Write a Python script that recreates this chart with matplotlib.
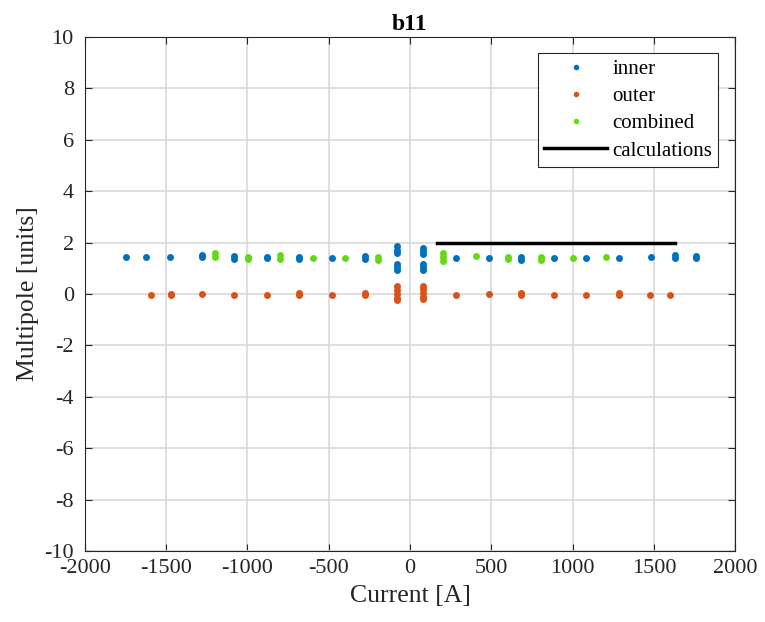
import matplotlib
matplotlib.use("Agg")
import matplotlib.pyplot as plt

plt.rcParams['font.family'] = ['Liberation Serif', 'DejaVu Serif']
plt.rcParams['axes.unicode_minus'] = False

inner_I = [-1750, -1625, -1475, -1280, -1280, -1080, -1080, -880, -880, -680, -680,
           -480, -280, -280, -80, -80, -80, -80, -80, -80,
           80, 80, 80, 80, 80, 80, 283, 484, 684, 684, 884, 1085, 1284, 1485, 1628, 1628, 1760, 1760]
inner_v = [1.45, 1.45, 1.45, 1.45, 1.50, 1.38, 1.48, 1.40, 1.45, 1.35, 1.45,
           1.42, 1.38, 1.48, 1.85, 1.70, 1.60, 1.15, 1.05, 0.95,
           1.80, 1.68, 1.55, 1.15, 1.05, 0.95, 1.40, 1.42, 1.32, 1.45, 1.40, 1.42, 1.42, 1.45, 1.40, 1.50, 1.42, 1.48]

outer_I = [-1592, -1473, -1473, -1280, -1080, -880, -680, -680, -480, -280, -280,
           -80, -80, -80, -80, -80, 80, 80, 80, 80, 80,
           283, 484, 685, 685, 884, 1085, 1284, 1284, 1479, 1598]
outer_v = [-0.02, -0.05, 0.02, 0.0, -0.02, -0.03, -0.02, 0.05, -0.02, -0.03, 0.05,
           0.30, 0.15, 0.0, -0.15, -0.25, 0.30, 0.20, 0.05, -0.10, -0.20,
           -0.02, 0.0, -0.05, 0.05, -0.02, -0.05, -0.05, 0.03, -0.02, -0.02]

comb_I = [-1198, -1198, -999, -999, -798, -798, -599, -398, -199, -199,
          201, 201, 201, 404, 603, 603, 804, 804, 1003, 1204]
comb_v = [1.45, 1.60, 1.35, 1.45, 1.38, 1.50, 1.42, 1.40, 1.32, 1.45,
          1.30, 1.45, 1.58, 1.48, 1.35, 1.45, 1.32, 1.45, 1.40, 1.45]

calc_I = [168, 1629]
calc_v = [2.0, 2.0]

c_inner = '#0072BD'
c_outer = '#D95319'
c_comb = '#66D914'

fig = plt.figure(figsize=(7.65, 6.22), dpi=100)
ax = fig.add_axes([0.111, 0.114, 0.850, 0.8265])

ax.plot(inner_I, inner_v, '.', color=c_inner, ms=10, mew=0, label='inner')
ax.plot(outer_I, outer_v, '.', color=c_outer, ms=10, mew=0, label='outer')
ax.plot(comb_I, comb_v, '.', color=c_comb, ms=10, mew=0, label='combined')
ax.plot(calc_I, calc_v, '-', color='black', lw=2.5, label='calculations')

ax.set_xlim(-2000, 2000)
ax.set_ylim(-10, 10)
ax.set_xticks(range(-2000, 2001, 500))
ax.set_yticks(range(-10, 11, 2))
ax.grid(True, color='#d9d9d9', lw=1.2)
ax.set_axisbelow(True)
ax.tick_params(direction='in', labelsize=16, length=5, width=0.8, top=True, right=True, colors='#262626')
ax.tick_params(axis='x', pad=6)
ax.tick_params(axis='y', pad=8)
for s in ax.spines.values():
    s.set_color('#262626')
    s.set_linewidth(0.8)
ax.set_xlabel('Current [A]', fontsize=18.5, color='#262626', labelpad=5)
ax.set_ylabel('Multipole [units]', fontsize=18.5, color='#262626', labelpad=4)
ax.set_title('b11', fontsize=17, fontweight='bold', pad=5)

leg = ax.legend(loc='upper right', bbox_to_anchor=(0.974, 0.968), fontsize=15,
                frameon=True, fancybox=False, edgecolor='#262626', framealpha=1,
                handlelength=3.0, handletextpad=0.25, borderpad=0.3, labelspacing=0.36,
                markerscale=0.8, borderaxespad=0)
leg.get_frame().set_linewidth(0.8)

fig.savefig('out.png', dpi=100)
